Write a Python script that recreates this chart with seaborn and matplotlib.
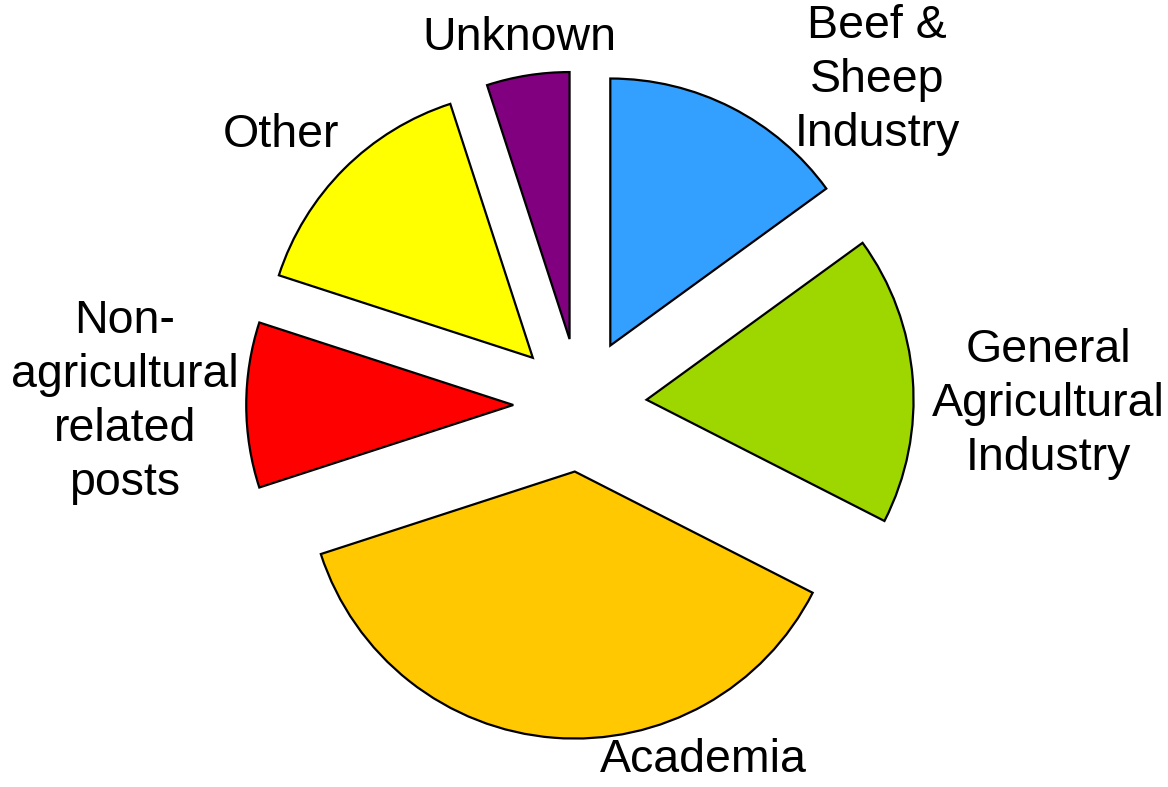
import matplotlib
matplotlib.use("Agg")
import matplotlib.pyplot as plt
import seaborn as sns

sns.set_theme(style="white")
plt.rcParams['font.family'] = ['Liberation Sans', 'DejaVu Sans']

# destination of graduates (% share)
labels = ["Beef &\nSheep\nIndustry", "General\nAgricultural\nIndustry", "Academia",
          "Non-\nagricultural\nrelated\nposts", "Other", "Unknown"]
shares = [15, 17.5, 37.5, 10, 15, 5]
colors = ["#33A0FF", "#9ED600", "#FFC800", "#FF0000", "#FFFF00", "#800080"]

# label centres in figure pixels (layout only)
label_px = [(877, 80), (1048, 404), (703, 760), (125, 402), (281, 135), (519, 38)]

W, H = 1168, 787
cx, cy, R = 580, 405, 267

fig = plt.figure(figsize=(W / 100, H / 100), dpi=100)
ax = fig.add_axes([0, 0, 1, 1])

ax.pie(shares, colors=colors, startangle=90, counterclock=False,
       explode=[0.25] * len(shares), radius=1,
       wedgeprops=dict(edgecolor="black", linewidth=1.6))

ax.set_aspect("auto")
ax.set_xlim(-cx / R, (W - cx) / R)
ax.set_ylim(-(H - cy) / R, cy / R)
ax.axis("off")

for lab, (px, py) in zip(labels, label_px):
    fig.text(px / W, 1 - py / H, lab, ha="center", va="center",
             fontsize=33.5, color="black", linespacing=1.29)

fig.savefig("out.png", dpi=100)
